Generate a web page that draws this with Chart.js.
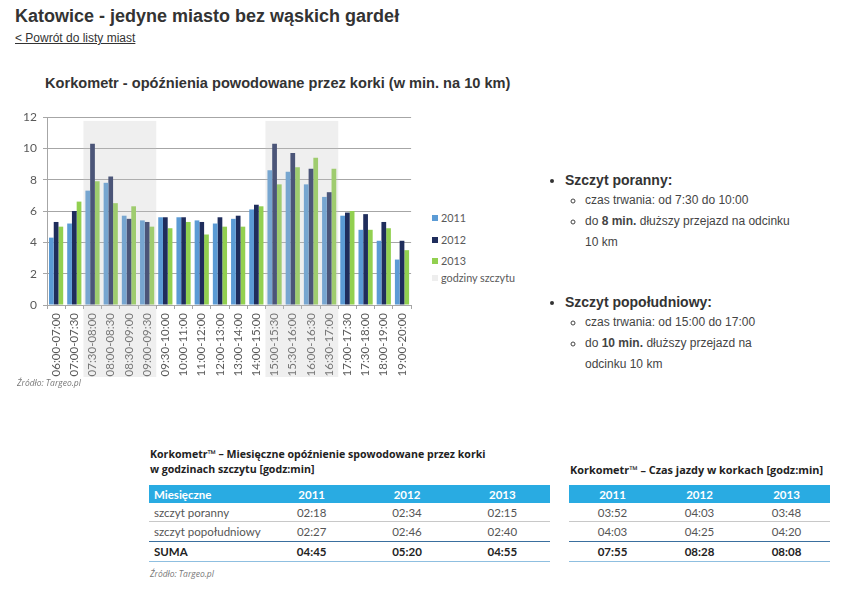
<!DOCTYPE html>
<html><head><meta charset="utf-8">
<script src="https://cdn.jsdelivr.net/npm/chart.js@4/dist/chart.umd.min.js"></script>
<style>
body{margin:0;background:#fff;width:844px;height:597px;position:relative;overflow:hidden;font-family:"Liberation Sans",Arial,sans-serif;color:#333}
.abs{position:absolute;white-space:nowrap}
#title{left:15px;top:6px;font-size:18px;font-weight:bold;color:#333}
#back{left:15px;top:31px;font-size:12px;color:#333;text-decoration:underline}
#ctitle{left:45px;top:75px;font-size:14.6px;font-weight:bold;color:#333}
#chartbox{position:absolute;left:0;top:100px;width:420px;height:285px}
.src{font-family:"Open Sans",sans-serif;font-style:italic;font-size:8.5px;color:#777}
.leg{font-family:Lato,sans-serif;font-size:10.8px;color:#595959;left:432px}
.leg i{display:inline-block;width:6px;height:6px;margin-right:3px;vertical-align:1px}
ul.main{position:absolute;left:535px;margin:0;padding-left:30px;list-style:disc;font-size:14px;font-weight:bold;color:#333}
ul.main ul{list-style:circle;padding-left:20px;margin:2px 0 0 0;font-size:12px;font-weight:normal;line-height:21px;color:#444}
table{position:absolute;border-collapse:collapse;font-family:Lato,sans-serif;font-size:11.5px;color:#555}
th{background:#29abe2;color:#fff;font-weight:bold;height:18px;padding:0;font-size:11.5px}
td{height:18px;padding:0;text-align:center}
.tt{font-family:"Open Sans",sans-serif;font-weight:bold;font-size:10.6px;color:#222;line-height:15px}
</style></head><body>
<div id="title" class="abs">Katowice - jedyne miasto bez wąskich gardeł</div>
<div id="back" class="abs">&lt; Powrót do listy miast</div>
<div id="ctitle" class="abs">Korkometr - opóźnienia powodowane przez korki (w min. na 10 km)</div>
<div id="chartbox"><canvas id="c"></canvas></div>
<div class="abs src" style="left:17px;top:377px">Źródło: Targeo.pl</div>
<div class="abs leg" style="top:211px"><i style="background:#5b9bd5"></i>2011</div>
<div class="abs leg" style="top:233px"><i style="background:#1f2d5c"></i>2012</div>
<div class="abs leg" style="top:254px"><i style="background:#92d050"></i>2013</div>
<div class="abs leg" style="top:271px"><i style="background:#eeeeee"></i>godziny szczytu</div>

<ul class="main" style="top:172px"><li>Szczyt poranny:<ul><li>czas trwania: od 7:30 do 10:00</li><li>do <b>8 min.</b> dłuższy przejazd na odcinku<br>10 km</li></ul></li></ul>
<ul class="main" style="top:294px"><li>Szczyt popołudniowy:<ul><li>czas trwania: od 15:00 do 17:00</li><li>do <b>10 min.</b> dłuższy przejazd na<br>odcinku 10 km</li></ul></li></ul>

<div class="abs tt" style="left:150px;top:447px">Korkometr™ – Miesięczne opóźnienie spowodowane przez korki<br>w godzinach szczytu [godz:min]</div>
<div class="abs tt" style="left:570px;top:462px;font-size:10.9px">Korkometr™ – Czas jazdy w korkach [godz:min]</div>
<div id="t1"></div><div id="t2"></div>
<div class="abs src" style="left:150px;top:568px">Źródło: Targeo.pl</div>

<script>
const categories = ["06:00-07:00","07:00-07:30","07:30-08:00","08:00-08:30","08:30-09:00","09:00-09:30","09:30-10:00","10:00-11:00","11:00-12:00","12:00-13:00","13:00-14:00","14:00-15:00","15:00-15:30","15:30-16:00","16:00-16:30","16:30-17:00","17:00-17:30","17:30-18:00","18:00-19:00","19:00-20:00"];
const s2011 = [4.3,5.2,7.3,7.8,5.7,5.4,5.6,5.6,5.4,5.2,5.5,6.1,8.6,8.5,7.7,6.9,5.7,4.8,4.1,2.9];
const s2012 = [5.3,6.0,10.3,8.2,5.5,5.3,5.6,5.6,5.3,5.6,5.7,6.4,10.3,9.7,8.7,7.2,5.9,5.8,5.3,4.1];
const s2013 = [5.0,6.6,7.9,6.5,6.3,5.0,4.9,5.3,4.5,5.0,5.0,6.3,7.7,8.8,9.4,8.7,6.0,4.8,4.9,3.5];
const peakTop = 11.75;
const peak = [0,0,1,1,1,1,0,0,0,0,0,0,1,1,1,1,0,0,0,0];
const yTicks = [0,2,4,6,8,10,12];

const tbl1Head = ["Miesięczne","2011","2012","2013"];
const tbl1Rows = [["szczyt poranny","02:18","02:34","02:15"],["szczyt popołudniowy","02:27","02:46","02:40"],["SUMA","04:45","05:20","04:55"]];
const tbl2Head = ["2011","2012","2013"];
const tbl2Rows = [["03:52","04:03","03:48"],["04:03","04:25","04:20"],["07:55","08:28","08:08"]];

function buildTable(id, head, rows, left, width, firstLeft){
  const t = document.createElement('table');
  t.style.left = left+'px'; t.style.top = '485px'; t.style.width = width+'px';
  let h = '<tr>' + head.map((c,i)=>`<th style="${firstLeft&&i==0?'text-align:left;padding-left:5px;':''}">${c}</th>`).join('') + '</tr>';
  rows.forEach((r,ri)=>{
    const bc = ri==0?'#c8c8c8':(ri==1?'#3a6f9e':'#8fbfe0');
    const st = `height:${ri==0?18:19}px;border-bottom:1px solid ${bc};${ri==2?'font-weight:bold;color:#222;':''}`;
    h += '<tr>' + r.map((c,i)=>`<td style="${st}${firstLeft&&i==0?'text-align:left;padding-left:5px;':''}">${c}</td>`).join('') + '</tr>';
  });
  t.innerHTML = h;
  document.getElementById(id).appendChild(t);
  return t;
}
const t1 = buildTable('t1', tbl1Head, tbl1Rows, 149, 401, true);
t1.querySelectorAll('tr').forEach(tr=>{const c=tr.children;c[0].style.width='110px';});
buildTable('t2', tbl2Head, tbl2Rows, 569, 261, false);

const peakPlugin = {
  id:'peak',
  afterDatasetsDraw(chart){
    const x = chart.scales.x, y = chart.scales.y, ctx = chart.ctx;
    const w = x.getPixelForValue(1) - x.getPixelForValue(0);
    ctx.save();
    ctx.fillStyle = 'rgba(195,195,195,0.27)';
    const top = y.getPixelForValue(peakTop);
    const bottom = x.bottom - 8;
    let i = 0;
    while (i < peak.length){
      if (peak[i]){
        let j = i; while (j+1 < peak.length && peak[j+1]) j++;
        const x0 = x.getPixelForValue(i) - w/2, x1 = x.getPixelForValue(j) + w/2;
        ctx.fillRect(x0, top, x1-x0, bottom-top);
        i = j+1;
      } else i++;
    }
    ctx.restore();
  }
};

const gridCol = '#a6a6a6';
new Chart(document.getElementById('c'), {
  type:'bar',
  data:{labels:categories, datasets:[
    {label:'2011', data:s2011, backgroundColor:'#5b9bd5'},
    {label:'2012', data:s2012, backgroundColor:'#1f2d5c'},
    {label:'2013', data:s2013, backgroundColor:'#92d050'}
  ]},
  options:{
    animation:false, responsive:true, maintainAspectRatio:false,
    datasets:{bar:{barPercentage:1, categoryPercentage:0.78}},
    layout:{padding:{top:17,left:0,right:8,bottom:0}},
    plugins:{legend:{display:false}, tooltip:{enabled:false}},
    scales:{
      y:{min:0,max:12,
        afterBuildTicks(s){s.ticks = yTicks.map(v=>({value:v}));},
        afterFit(s){s.width = 47;},
        grid:{color:gridCol, tickLength:4, lineWidth:1},
        border:{display:true,color:gridCol},
        ticks:{color:'#595959', font:{family:'Lato', size:12}, padding:6}
      },
      x:{
        afterFit(s){s.height = 80;},
        grid:{display:true, drawOnChartArea:false, offset:true, tickLength:4, color:gridCol},
        border:{display:true,color:gridCol},
        ticks:{color:'#595959', font:{family:'Lato', size:11.5}, minRotation:90, maxRotation:90, autoSkip:false, padding:4}
      }
    }
  },
  plugins:[peakPlugin]
});
</script>
</body></html>
